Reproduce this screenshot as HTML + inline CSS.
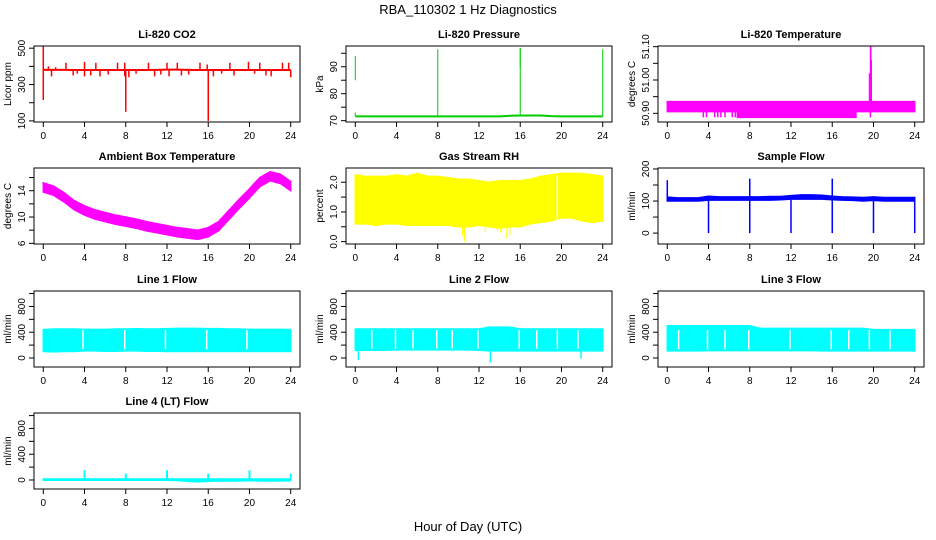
<!DOCTYPE html>
<html><head><meta charset="utf-8"><style>
body{margin:0;background:#fff;}
svg{display:block;font-family:"Liberation Sans",sans-serif;}
</style></head><body>
<svg id="chart" width="936" height="540" viewBox="0 0 936 540" xmlns="http://www.w3.org/2000/svg">
<rect x="0" y="0" width="936" height="540" fill="#fff"/>
<text x="468" y="14" text-anchor="middle" font-size="13">RBA_110302  1 Hz Diagnostics</text>
<text x="468" y="531" text-anchor="middle" font-size="13">Hour of Day (UTC)</text>
</svg>
<script>
const hours=[0,1,2,3,4,5,6,7,8,9,10,11,12,13,14,15,16,17,18,19,20,21,22,23,24];
const xTicks=[0,4,8,12,16,20,24];
// CO2
const co2Base=[381,381,381,380,380,380,380,380,380,380,380,381,382,382,381,380,380,380,380,380,380,380,380,380,380];
const co2SpikeX=[0,0,0.5,0.8,1.2,2.2,2.9,3.3,4.0,4.0,4.6,5.1,5.5,6.3,7.2,7.9,7.9,8.0,8.3,9.0,10.2,10.8,11.4,12.0,12.2,13.0,13.4,14.1,15.2,15.9,16.0,16.5,17.3,18.1,18.5,19.9,20.5,21.0,21.6,22.1,23.2,23.8,24.0];
const co2SpikeY=[510,215,400,345,395,420,350,360,425,345,350,420,345,355,420,420,345,150,340,360,420,345,355,420,345,420,350,355,420,410,100,345,360,420,350,425,360,420,350,345,420,420,340];
// Pressure
const presBase=[71.6,71.6,71.6,71.6,71.6,71.6,71.6,71.6,71.6,71.6,71.6,71.6,71.6,71.6,71.6,71.8,71.9,71.9,71.9,71.7,71.6,71.6,71.6,71.6,71.6];
const presSpikeX=[0,0,8,16,16,24];
const presSpikeLo=[85,71.6,71.6,71.6,90,71.6];
const presSpikeHi=[94,73,96.5,97,97,96.5];
// Li-820 temperature
const tempBandX=[0,19.6,19.6,24];
const tempBandLo=[50.905,50.905,50.905,50.905];
const tempBandHi=[50.935,50.935,50.935,50.935];
const tempFillX=[6.8,18.3];
const tempFillLo=[50.888,50.888];
const tempDipX=[3.5,3.8,4.6,4.9,5.2,5.6,6.3,6.6,19.7];
const tempDipY=[50.888,50.888,50.888,50.888,50.888,50.888,50.888,50.888,50.888];
const tempSpikeX=[19.6,19.7,19.75,19.8];
const tempSpikeY=[51.02,51.10,51.10,51.06];
// Ambient box temperature
const ambLo=[13.8,13.3,12.3,11.1,10.3,9.7,9.3,8.9,8.6,8.3,7.9,7.6,7.3,7.0,6.8,6.6,7.0,7.9,9.6,11.3,12.9,14.6,15.5,15.1,14.0];
const ambHi=[15.2,14.7,13.7,12.5,11.7,11.1,10.7,10.3,10.0,9.7,9.3,9.0,8.7,8.4,8.2,8.0,8.4,9.3,11.0,12.7,14.3,16.0,16.9,16.5,15.4];
// Gas stream RH
const rhLo=[0.6,0.6,0.55,0.6,0.6,0.55,0.55,0.55,0.55,0.55,0.5,0.5,0.55,0.5,0.45,0.5,0.5,0.6,0.65,0.7,0.8,0.8,0.7,0.65,0.7];
const rhHi=[2.25,2.2,2.2,2.2,2.25,2.2,2.3,2.2,2.2,2.15,2.1,2.1,2.05,2.0,2.05,2.05,2.05,2.1,2.2,2.25,2.3,2.3,2.3,2.25,2.2];
const rhDipX=[10.6,12.6,13.8,14.1,14.7,15.0,10.4];
const rhDipY=[0.0,0.3,0.35,0.3,0.1,0.2,0.2];
// Sample flow
const sfLo=[100,100,100,100,103,103,103,103,103,103,103,104,106,106,106,106,104,103,102,100,102,100,100,100,100];
const sfHi=[112,110,110,110,115,113,113,113,113,113,114,114,117,119,119,118,115,113,112,111,113,111,111,111,111];
const sfSpikeX=[0,8,16,4,8,12,16,20,24];
const sfSpikeY=[165,170,170,0,0,0,0,0,0];
// Line flows
const l1Lo=[100,95,100,100,110,110,105,105,110,110,105,105,100,100,100,100,100,100,100,100,100,100,100,100,100];
const l1Hi=[440,450,450,450,445,445,445,450,450,455,450,450,455,460,460,460,455,455,450,450,445,445,445,445,440];
const l1GapX=[3.85,7.9,11.85,15.85,19.75];
const l2Lo=[120,120,120,120,125,125,125,125,125,125,125,125,120,110,110,110,110,110,110,110,110,110,110,110,110];
const l2Hi=[450,450,450,450,450,450,450,450,450,450,450,450,450,480,480,480,450,450,450,450,450,450,450,450,450];
const l2GapX=[1.6,3.9,5.6,7.9,9.4,11.9,15.9,17.6,19.6,21.6];
const l2DipX=[0.3,13.1,21.9];
const l2DipY=[-30,-70,-10];
const l3Lo=[110,110,110,110,115,115,115,115,115,115,115,115,115,115,115,110,110,110,110,110,110,110,110,110,110];
const l3Hi=[500,500,500,500,500,500,500,500,500,460,460,460,460,460,460,460,460,460,460,460,440,440,440,440,440];
const l3GapX=[1.1,3.9,5.6,7.9,11.9,15.9,17.6,19.6,21.6];
const l4Lo=[-5,-5,-5,-5,-5,-5,-5,-5,-5,-5,-5,-5,-5,-10,-20,-30,-20,-15,-15,-15,-10,-15,-15,-15,-10];
const l4Hi=[15,15,15,15,15,15,15,15,15,15,15,15,15,15,15,15,15,15,15,15,15,15,15,15,15];
const l4SpikeX=[4,8,12,16,20,24];
const l4SpikeY=[150,100,150,100,150,100];

const NS="http://www.w3.org/2000/svg";
const svg=document.getElementById('chart');
const colL=[34,346,658], rowT=[46,168,291,413], PW=266, PH=76;
function mk(tag,attrs,parent){const e=document.createElementNS(NS,tag);for(const k in attrs)e.setAttribute(k,attrs[k]);(parent||svg).appendChild(e);return e;}

function panel(col,row,title,ylab,ylim,yt,ylabs,name,color,draw){
  const L=colL[col],T=rowT[row];
  const g=mk('g',{});
  
  
  const sx=x=>L+(x+0.9)/25.8*PW;
  const sy=y=>T+PH-(y-ylim[0])/(ylim[1]-ylim[0])*PH;
  const t=mk('text',{x:L+PW/2,y:T-8,'text-anchor':'middle','font-size':11,'font-weight':'bold'},g);
  t.textContent=title;
  
  
  const cg=mk('g',{fill:color,stroke:color},g);
  
  
  draw(cg,sx,sy);
  const box=mk('rect',{x:L,y:T,width:PW,height:PH,fill:'none',stroke:'#000','stroke-width':1},g);
  
  
  const xa=mk('g',{},g);
  
  
  mk('line',{x1:sx(0),x2:sx(24),y1:T+PH,y2:T+PH,stroke:'#000'},xa);
  xTicks.forEach(v=>{mk('line',{x1:sx(v),x2:sx(v),y1:T+PH,y2:T+PH+5,stroke:'#000'},xa);
    const tt=mk('text',{x:sx(v),y:T+PH+17,'text-anchor':'middle','font-size':10},xa);tt.textContent=v;});
  const ya=mk('g',{},g);
  
  
  mk('line',{x1:L,x2:L,y1:sy(yt[0]),y2:sy(yt[yt.length-1]),stroke:'#000'},ya);
  yt.forEach((v,i)=>{mk('line',{x1:L-5,x2:L,y1:sy(v),y2:sy(v),stroke:'#000'},ya);
    if(ylabs[i]!==''){const tt=mk('text',{x:0,y:0,'text-anchor':'middle','font-size':10,transform:`translate(${L-9},${sy(v)}) rotate(-90)`},ya);tt.textContent=ylabs[i];}});
  const yl=mk('text',{x:0,y:0,'text-anchor':'middle','font-size':10,transform:`translate(${L-23},${T+PH/2}) rotate(-90)`},g);
  yl.textContent=ylab;
  
  
}
function band(g,sx,sy,xs,lo,hi){
  let d='M'+xs.map((x,i)=>sx(x)+','+sy(hi[i])).join('L');
  for(let i=xs.length-1;i>=0;i--)d+='L'+sx(xs[i])+','+sy(lo[i]);
  mk('path',{d:d+'Z','stroke-width':1.5},g);
}
function segs(g,sx,sy,xs,y0,y1,w){xs.forEach((x,i)=>mk('line',{x1:sx(x),x2:sx(x),y1:sy(Array.isArray(y0)?y0[i]:y0),y2:sy(y1[i]),'stroke-width':w||1.5},g));}
function gaps(g,sx,sy,xs,lo,hi){xs.forEach(x=>mk('line',{x1:sx(x),x2:sx(x),y1:sy(hi)-1,y2:sy(lo)+1,stroke:'#fff','stroke-width':1.5},g));}
function line(g,sx,sy,xs,ys){mk('polyline',{points:xs.map((x,i)=>sx(x)+','+sy(ys[i])).join(' '),fill:'none','stroke-width':2},g);}

panel(0,0,'Li-820 CO2','Licor ppm',[94,512],[100,200,300,400,500],['100','','300','','500'],'co2','#ff0000',(g,sx,sy)=>{
  line(g,sx,sy,hours,co2Base);
  segs(g,sx,sy,co2SpikeX,380,co2SpikeY,1.5);
});
panel(1,0,'Li-820 Pressure','kPa',[69.5,97.7],[70,75,80,85,90,95],['70','','80','','90',''],'pressure','#00cc00',(g,sx,sy)=>{
  line(g,sx,sy,hours,presBase);
  segs(g,sx,sy,presSpikeX,presSpikeLo,presSpikeHi,1);
});
panel(2,0,'Li-820 Temperature','degrees C',[50.874,51.102],[50.90,50.95,51.00,51.05,51.10],['50.90','','51.00','','51.10'],'li820-temp','#ff00ff',(g,sx,sy)=>{
  band(g,sx,sy,tempBandX,tempBandLo,tempBandHi);
  band(g,sx,sy,tempFillX,tempFillLo,[50.905,50.905]);
  segs(g,sx,sy,tempDipX,50.905,tempDipY,1.5);
  segs(g,sx,sy,tempSpikeX,50.905,tempSpikeY,1.2);
});
panel(0,1,'Ambient Box Temperature','degrees C',[5.9,17.45],[6,8,10,12,14,16],['6','','10','','14',''],'ambient-temp','#ff00ff',(g,sx,sy)=>{
  band(g,sx,sy,hours,ambLo,ambHi);
});
panel(1,1,'Gas Stream RH','percent',[-0.08,2.48],[0,0.5,1.0,1.5,2.0],['0.0','','1.0','','2.0'],'gas-rh','#ffff00',(g,sx,sy)=>{
  band(g,sx,sy,hours,rhLo,rhHi);
  segs(g,sx,sy,rhDipX,0.6,rhDipY,1);
  gaps(g,sx,sy,[19.6],0.7,2.2);
});
panel(2,1,'Sample Flow','ml/min',[-34,203],[0,50,100,150,200],['0','','100','','200'],'sample-flow','#0000ff',(g,sx,sy)=>{
  band(g,sx,sy,hours,sfLo,sfHi);
  segs(g,sx,sy,sfSpikeX,105,sfSpikeY,1.5);
});
const flowLim=[-140,1040],flowT=[0,200,400,600,800,1000],flowL=['0','','400','','800',''];
panel(0,2,'Line 1 Flow','ml/min',flowLim,flowT,flowL,'line1-flow','#00ffff',(g,sx,sy)=>{
  band(g,sx,sy,hours,l1Lo,l1Hi);
  gaps(g,sx,sy,l1GapX,150,420);
});
panel(1,2,'Line 2 Flow','ml/min',flowLim,flowT,flowL,'line2-flow','#00ffff',(g,sx,sy)=>{
  band(g,sx,sy,hours,l2Lo,l2Hi);
  gaps(g,sx,sy,l2GapX,160,420);
  segs(g,sx,sy,l2DipX,120,l2DipY,1.5);
});
panel(2,2,'Line 3 Flow','ml/min',flowLim,flowT,flowL,'line3-flow','#00ffff',(g,sx,sy)=>{
  band(g,sx,sy,hours,l3Lo,l3Hi);
  gaps(g,sx,sy,l3GapX,150,420);
});
panel(0,3,'Line 4 (LT) Flow','ml/min',flowLim,flowT,flowL,'line4-flow','#00ffff',(g,sx,sy)=>{
  band(g,sx,sy,hours,l4Lo,l4Hi);
  segs(g,sx,sy,l4SpikeX,0,l4SpikeY,2);
});
</script>
</body></html>
